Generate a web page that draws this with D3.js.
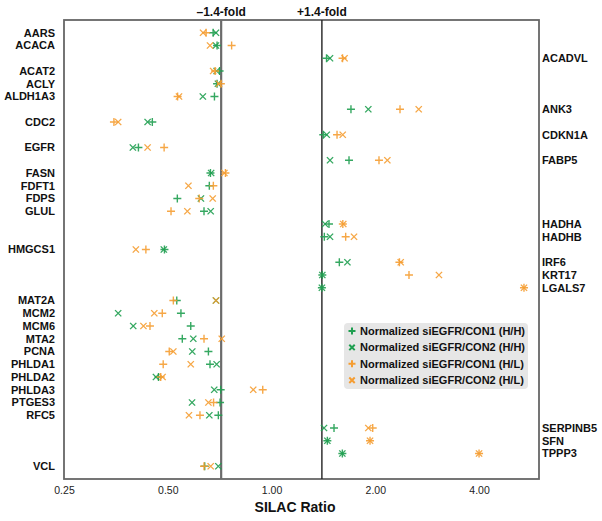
<!DOCTYPE html>
<html><head><meta charset="utf-8">
<script src="https://d3js.org/d3.v7.min.js"></script>
<style>body{margin:0;background:#fff}svg{display:block;font-family:"Liberation Sans",Arial,sans-serif}</style>
</head><body><svg id="c" width="602" height="521"></svg>
<script>
const genes = ["AARS","ACACA","ACADVL","ACAT2","ACLY","ALDH1A3","ANK3","CDC2","CDKN1A","EGFR","FABP5","FASN","FDFT1","FDPS","GLUL","HADHA","HADHB","HMGCS1","IRF6","KRT17","LGALS7","MAT2A","MCM2","MCM6","MTA2","PCNA","PHLDA1","PHLDA2","PHLDA3","PTGES3","RFC5","SERPINB5","SFN","TPPP3","VCL"];
const hhCon1 = [0.677,0.695,1.444,0.707,0.695,0.683,1.70,0.451,1.413,0.411,1.678,0.665,0.660,0.533,0.637,1.468,1.423,0.489,1.573,1.404,1.40,0.531,0.546,0.583,0.551,0.656,0.663,0.470,0.712,0.709,0.701,1.518,1.452,1.605,0.640];
const hhCon2 = [0.690,0.690,1.478,0.693,0.699,0.632,1.909,0.437,1.446,0.396,1.478,0.668,null,0.624,0.666,1.43,1.478,0.487,1.66,1.404,1.40,0.690,0.359,0.397,0.593,0.589,0.693,0.462,0.682,0.588,0.660,1.42,1.452,1.605,0.701];
const hlCon1 = [0.646,0.766,1.607,0.686,0.713,0.534,2.359,0.349,1.549,0.488,2.05,0.735,0.678,0.617,0.511,1.61,1.641,0.432,2.35,2.505,5.40,0.519,0.482,0.444,0.637,0.505,0.485,0.477,0.943,0.679,0.620,1.966,1.931,4.0,0.637];
const hlCon2 = [0.633,0.663,1.629,0.677,0.704,0.539,2.673,0.359,1.609,0.437,2.168,0.730,0.574,0.675,0.570,1.615,1.735,0.404,2.37,3.06,5.40,0.690,0.457,0.425,0.717,0.519,0.583,0.483,0.885,0.656,0.576,1.909,1.931,4.0,0.666];
const tickValues = [0.25,0.5,1,2,4];
const foldLines = [1/1.4, 1.4];
const foldLabels = ["\u20131.4-fold","+1.4-fold"];
const seriesNames = ["Normalized siEGFR/CON1 (H/H)","Normalized siEGFR/CON2 (H/H)","Normalized siEGFR/CON1 (H/L)","Normalized siEGFR/CON2 (H/L)"];

const GREEN = "#1f9e50", ORANGE = "#f59d32";
const series = [
  {name: seriesNames[0], vals: hhCon1, color: GREEN, shape: "plus"},
  {name: seriesNames[1], vals: hhCon2, color: GREEN, shape: "cross"},
  {name: seriesNames[2], vals: hlCon1, color: ORANGE, shape: "plus"},
  {name: seriesNames[3], vals: hlCon2, color: ORANGE, shape: "cross"}
];

const svg = d3.select("#c");
const L = 64, R = 539, T = 20, B = 479;
const x = d3.scaleLog().base(2).domain([0.25, 5.97]).range([L, R]);
const y = d3.scalePoint().domain(genes).range([T, B]).padding(1);

function shapePath(s, r) {
  if (s === "plus") return `M${-r},0H${r}M0,${-r}V${r}`;
  const c = r * 0.78;
  return `M${-c},${-c}L${c},${c}M${-c},${c}L${c},${-c}`;
}

// frame
svg.append("rect").attr("x", L).attr("y", T).attr("width", R - L).attr("height", B - T)
  .attr("fill", "none").attr("stroke", "#666").attr("stroke-width", 1.8);

// fold lines
svg.append("line").attr("x1", x(foldLines[0])).attr("x2", x(foldLines[0])).attr("y1", T).attr("y2", B)
  .attr("stroke", "#6b6b6b").attr("stroke-width", 2.2);
svg.append("line").attr("x1", x(foldLines[1])).attr("x2", x(foldLines[1])).attr("y1", T).attr("y2", B)
  .attr("stroke", "#222").attr("stroke-width", 1.4);
foldLines.forEach((f, i) => {
  svg.append("text").attr("x", x(f)).attr("y", 16).attr("text-anchor", "middle")
    .attr("font-size", 12).attr("font-weight", "bold").attr("fill", "#111").text(foldLabels[i]);
});

// x axis (labels only)
const ax = svg.append("g").attr("transform", `translate(0,${B})`)
  .call(d3.axisBottom(x).tickValues(tickValues).tickSize(0).tickPadding(8).tickFormat(d3.format(".2f")));
ax.select(".domain").remove();
ax.selectAll("text").attr("font-size", 10.5).attr("fill", "#222").attr("font-family", "Liberation Sans, Arial, sans-serif");

svg.append("text").attr("x", 295).attr("y", 512).attr("text-anchor", "middle")
  .attr("font-size", 14).attr("font-weight", "bold").attr("fill", "#111").text("SILAC Ratio");

// gene labels
genes.forEach((g, i) => {
  const up = Math.max(hhCon1[i], hlCon1[i] || 0) > 1;
  svg.append("text").attr("x", up ? R + 3 : L - 9).attr("y", y(g)).attr("dy", "0.35em")
    .attr("text-anchor", up ? "start" : "end").attr("font-size", 11).attr("font-weight", "bold")
    .attr("fill", "#111").text(g);
});

// markers
series.forEach(s => {
  svg.append("g").selectAll("path")
    .data(genes.map((g, i) => ({g, v: s.vals[i]})).filter(d => d.v != null))
    .join("path")
    .attr("transform", d => `translate(${x(d.v)},${y(d.g)})`)
    .attr("d", shapePath(s.shape, 4))
    .attr("fill", "none").attr("stroke", s.color).attr("stroke-width", 1.4).attr("opacity", 0.9);
});

// legend
const lg = svg.append("g");
lg.append("rect").attr("x", 344).attr("y", 323).attr("width", 184).attr("height", 66).attr("rx", 4)
  .attr("fill", "#e6e6e6");
series.forEach((s, i) => {
  const yy = 331 + i * 16.4;
  lg.append("path").attr("transform", `translate(352,${yy})`).attr("d", shapePath(s.shape, 3.5))
    .attr("fill", "none").attr("stroke", s.color).attr("stroke-width", 2);
  lg.append("text").attr("x", 360).attr("y", yy).attr("dy", "0.35em").attr("font-size", 11)
    .attr("font-weight", "bold").attr("fill", "#111").text(s.name);
});
</script></body></html>
